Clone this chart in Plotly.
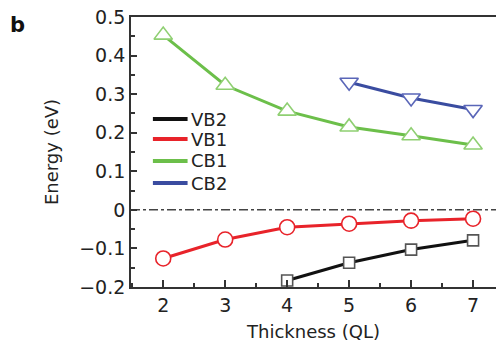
import plotly.graph_objects as go

thickness = [2, 3, 4, 5, 6, 7]
vb2_x = [4, 5, 6, 7]
vb2 = [-0.183, -0.137, -0.103, -0.079]
vb1_x = [2, 3, 4, 5, 6, 7]
vb1 = [-0.126, -0.077, -0.045, -0.036, -0.028, -0.023]
cb1_x = [2, 3, 4, 5, 6, 7]
cb1 = [0.453, 0.323, 0.256, 0.215, 0.192, 0.168]
cb2_x = [5, 6, 7]
cb2 = [0.331, 0.290, 0.260]

names = ["VB2", "VB1", "CB1", "CB2"]
colors = ["#111111", "#e8232a", "#6cbf4a", "#3a4ca0"]
mcolors = ["#555555", "#e8232a", "#8fcf72", "#5a66b8"]
symbols = ["square", "circle", "triangle-up", "triangle-down"]
sizes = [11, 15, 16, 16]
xs = [vb2_x, vb1_x, cb1_x, cb2_x]
ys = [vb2, vb1, cb1, cb2]

FONT = "DejaVu Sans, sans-serif"

fig = go.Figure()
for i in range(4):
    fig.add_trace(go.Scatter(
        x=xs[i], y=ys[i], mode="lines+markers", name=names[i],
        line=dict(color=colors[i], width=3),
        marker=dict(symbol=symbols[i], size=sizes[i],
                    color="white", line=dict(color=mcolors[i], width=1.6)),
        showlegend=False,
    ))

# zero reference line
fig.add_shape(type="line", xref="paper", yref="y", x0=0, x1=1, y0=0, y1=0,
              line=dict(color="#444444", width=1.5, dash="dashdot"), layer="below")

# legend drawn manually
leg_y = [0.622, 0.548, 0.467, 0.385]
for i in range(4):
    fig.add_shape(type="line", xref="paper", yref="paper",
                  x0=0.06, x1=0.155, y0=leg_y[i], y1=leg_y[i],
                  line=dict(color=colors[i], width=4))
    fig.add_annotation(xref="paper", yref="paper", x=0.16, y=leg_y[i],
                       text=names[i], showarrow=False, xanchor="left",
                       yanchor="middle", font=dict(size=18, color="#222222", family=FONT))

fig.add_annotation(xref="paper", yref="paper", x=-0.31, y=0.97, text="<b>b</b>",
                   showarrow=False, xanchor="center", yanchor="middle",
                   font=dict(size=21, color="#111111", family=FONT))

fig.update_layout(
    width=496, height=351,
    margin=dict(l=131, r=0, t=17, b=64),
    paper_bgcolor="white", plot_bgcolor="white",
    font=dict(family=FONT, size=18, color="#222222"),
)
fig.update_xaxes(
    range=[1.48, 7.37], tickvals=thickness, ticks="inside", ticklen=7, tickwidth=1.5,
    tickcolor="#333333", showline=True, linecolor="#333333", linewidth=1.8,
    mirror=True, showgrid=False, zeroline=False,
    minor=dict(tickvals=[1.5, 2.5, 3.5, 4.5, 5.5, 6.5], ticks="inside", ticklen=4,
               tickcolor="#333333", tickwidth=1.5),
    title=dict(text="Thickness (QL)", font=dict(size=18), standoff=11),
    tickfont=dict(size=19),
)
fig.update_yaxes(
    range=[-0.2, 0.5], tickvals=[-0.2, -0.1, 0, 0.1, 0.2, 0.3, 0.4, 0.5],
    ticktext=["\u22120.2", "\u22120.1", "0", "0.1", "0.2", "0.3", "0.4", "0.5"],
    ticks="inside", ticklen=6, tickwidth=1.5, tickcolor="#333333",
    showline=True, linecolor="#333333", linewidth=1.8, showgrid=False, zeroline=False,
    minor=dict(tickvals=[-0.15, -0.05, 0.05, 0.15, 0.25, 0.35, 0.45], ticks="inside",
               ticklen=4, tickcolor="#333333", tickwidth=1.5),
    title=dict(text="Energy (eV)", font=dict(size=18), standoff=16),
    tickfont=dict(size=19),
)

fig.write_html("out.html")
